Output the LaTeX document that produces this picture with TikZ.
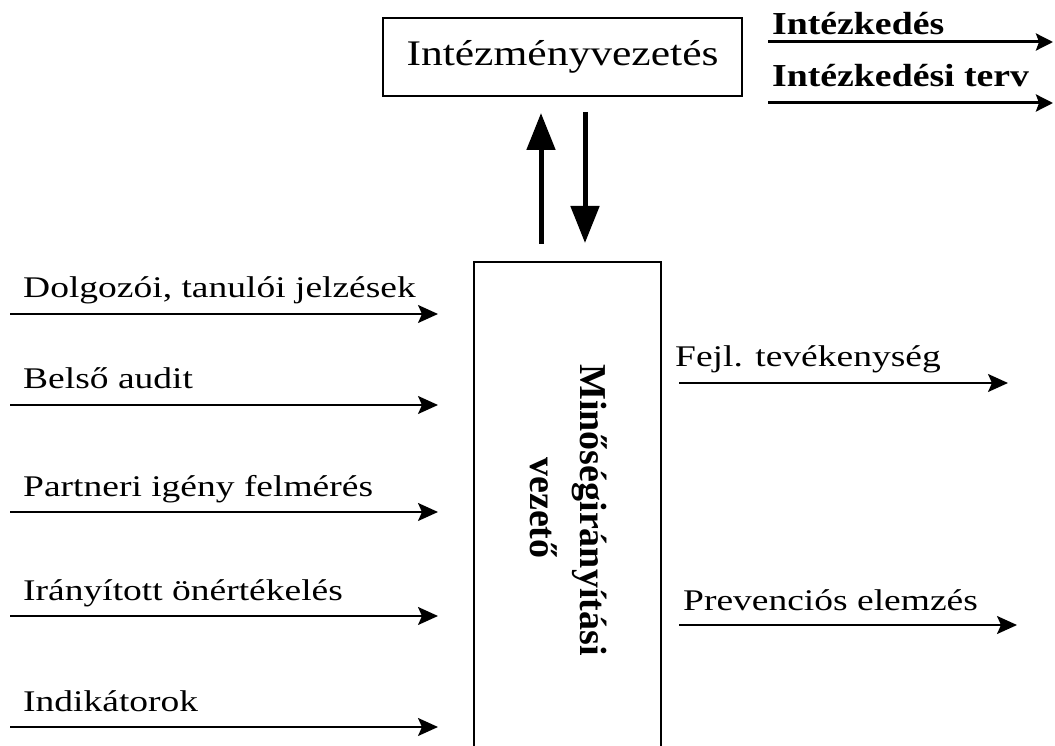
\documentclass[tikz,border=0pt]{standalone}
\usepackage{fontspec}
\setmainfont{Liberation Serif}
\usetikzlibrary{arrows.meta}
\tikzset{
  lbl/.style={anchor=base west, inner sep=0pt, font=\fontsize{30}{34}\selectfont},
  blbl/.style={anchor=base west, inner sep=0pt, font=\fontsize{32}{38}\selectfont\bfseries},
  vlbl/.style={anchor=base, rotate=-90, inner sep=0pt, font=\fontsize{38}{44}\selectfont\bfseries},
  thinarrow/.style={line width=2pt, -{Stealth[length=20pt,width=18pt,inset=4pt]}},
  midarrow/.style={line width=3pt, -{Stealth[length=17pt,width=17pt,inset=3pt]}},
  thickarrow/.style={line width=5pt, -{Triangle[length=37pt,width=28pt]}},
  box/.style={draw, line width=1.5pt, inner sep=0pt}
}
\begin{document}
\begin{tikzpicture}[x=1pt,y=-1pt]
\useasboundingbox (0,0) rectangle (1055,746);
\clip (0,0) rectangle (1055,746);
\fill[white] (0,0) rectangle (1055,746);
% top box
\node[box, minimum width=359pt, minimum height=78pt, font=\fontsize{36}{40}\selectfont] (iv) at (562.5,57) {\scalebox{1.21}[1]{Intézményvezetés}};
% tall box
\node[box, minimum width=187pt, minimum height=560pt] (mv) at (567.5,542) {};
\node[vlbl] (mvt1) at (580,510) {Minőségirányítási};
\node[vlbl] (mvt2) at (530,508) {vezető};
% vertical arrows
\coordinate (u1) at (541,244); \coordinate (u2) at (541,113);
\coordinate (d1) at (585,112); \coordinate (d2) at (585,243);
\draw[thickarrow] (u1) -- (u2);
\draw[thickarrow] (d1) -- (d2);
% top right outputs
\node[blbl] (o1) at (772,35) {\scalebox{1.18}[1]{Intézkedés}};
\node[blbl] (o2) at (772,87) {\scalebox{1.18}[1]{Intézkedési terv}};
\coordinate (o1a) at (768,42); \coordinate (o1b) at (1053,42);
\coordinate (o2a) at (768,103); \coordinate (o2b) at (1053,103);
\draw[midarrow] (o1a) -- (o1b);
\draw[midarrow] (o2a) -- (o2b);
% left inputs
\node[lbl] (i1) at (23,298) {\scalebox{1.25}[1]{Dolgozói, tanulói jelzések}};
\node[lbl] (i2) at (23,388) {\scalebox{1.25}[1]{Belső audit}};
\node[lbl] (i3) at (23,496) {\scalebox{1.25}[1]{Partneri igény felmérés}};
\node[lbl] (i4) at (23,600) {\scalebox{1.25}[1]{Irányított önértékelés}};
\node[lbl] (i5) at (23,711) {\scalebox{1.25}[1]{Indikátorok}};
\foreach \k/\y in {1/314,2/405,3/512,4/616,5/727}{
  \coordinate (a\k) at (10,\y); \coordinate (b\k) at (438,\y);
  \draw[thinarrow] (a\k) -- (b\k);
}
% right outputs
\node[lbl] (r1) at (675,366) {\scalebox{1.25}[1]{Fejl. tevékenység}};
\node[lbl] (r2) at (683,610) {\scalebox{1.25}[1]{Prevenciós elemzés}};
\coordinate (r1a) at (679,383); \coordinate (r1b) at (1008,383);
\coordinate (r2a) at (679,625); \coordinate (r2b) at (1017,625);
\draw[thinarrow] (r1a) -- (r1b);
\draw[thinarrow] (r2a) -- (r2b);
\end{tikzpicture}
\end{document}
